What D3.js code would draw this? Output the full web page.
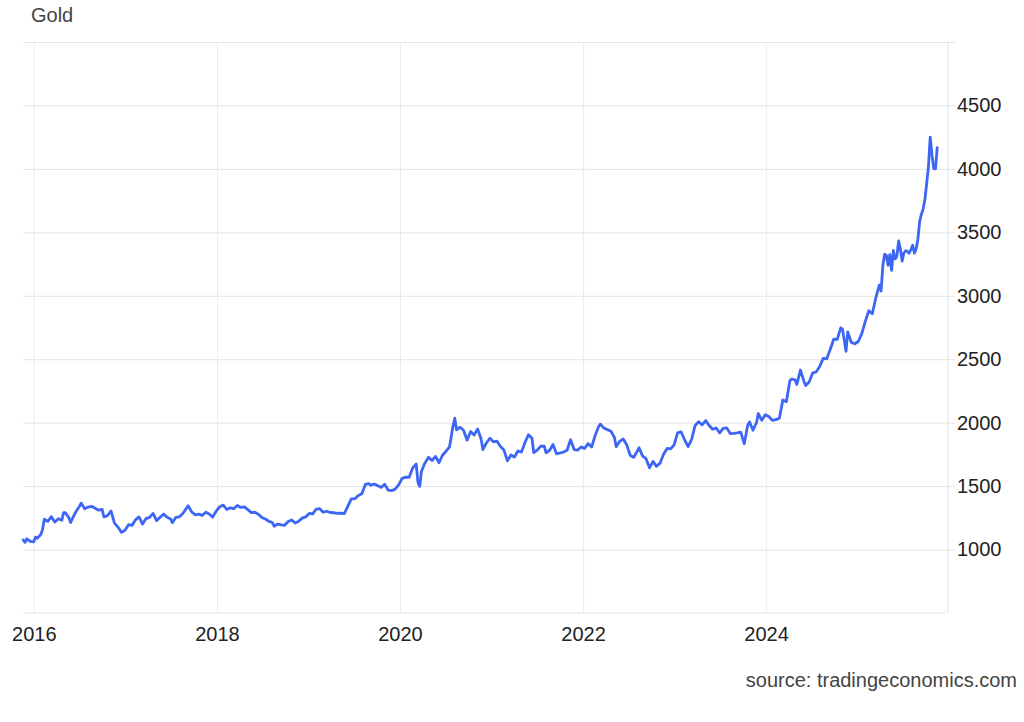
<!DOCTYPE html>
<html>
<head>
<meta charset="utf-8">
<script src="https://cdn.jsdelivr.net/npm/d3@7"></script>
<style>
  html, body { margin: 0; padding: 0; background: #fff; }
  svg { display: block; font-family: "Liberation Sans", Arial, sans-serif; }
</style>
</head>
<body>
<div id="chart"></div>
<script>
//data
var title = "Gold",
    source = "source: tradingeconomics.com";
var xTicks = ["2016-01-01", "2018-01-01", "2020-01-01", "2022-01-01", "2024-01-01"];
var yTicks = [1000, 1500, 2000, 2500, 3000, 3500, 4000, 4500, 5000];
var dates = [
  "2015-11-20","2015-11-27","2015-12-04","2015-12-11","2015-12-18","2016-01-01","2016-01-08","2016-01-15","2016-01-29","2016-02-05",
  "2016-02-12","2016-02-26","2016-03-11","2016-03-25","2016-04-08","2016-04-22","2016-04-29","2016-05-06","2016-05-20","2016-05-27",
  "2016-06-03","2016-06-17","2016-07-01","2016-07-08","2016-07-22","2016-08-05","2016-08-19","2016-09-02","2016-09-16","2016-09-30",
  "2016-10-07","2016-10-21","2016-11-04","2016-11-18","2016-12-02","2016-12-16","2016-12-30","2017-01-13","2017-01-27","2017-02-10",
  "2017-02-24","2017-03-10","2017-03-24","2017-04-07","2017-04-21","2017-05-05","2017-05-19","2017-06-02","2017-06-16","2017-06-30",
  "2017-07-07","2017-07-21","2017-08-04","2017-08-18","2017-09-01","2017-09-08","2017-09-22","2017-10-06","2017-10-20","2017-11-03",
  "2017-11-17","2017-12-01","2017-12-15","2017-12-29","2018-01-12","2018-01-26","2018-02-09","2018-02-23","2018-03-09","2018-03-23",
  "2018-04-06","2018-04-20","2018-05-04","2018-05-18","2018-06-01","2018-06-15","2018-06-29","2018-07-13","2018-07-27","2018-08-10",
  "2018-08-17","2018-08-31","2018-09-14","2018-09-28","2018-10-12","2018-10-26","2018-11-09","2018-11-23","2018-12-07","2018-12-21",
  "2019-01-04","2019-01-18","2019-02-01","2019-02-15","2019-03-01","2019-03-15","2019-03-29","2019-04-12","2019-04-26","2019-05-10",
  "2019-05-24","2019-06-07","2019-06-21","2019-07-05","2019-07-19","2019-08-02","2019-08-16","2019-08-30","2019-09-06","2019-09-20",
  "2019-10-04","2019-10-18","2019-11-01","2019-11-15","2019-11-29","2019-12-13","2019-12-27","2020-01-10","2020-01-24","2020-02-07",
  "2020-02-21","2020-03-06","2020-03-13","2020-03-20","2020-03-27","2020-04-10","2020-04-24","2020-05-08","2020-05-22","2020-06-05",
  "2020-06-19","2020-07-03","2020-07-17","2020-07-31","2020-08-07","2020-08-14","2020-08-28","2020-09-11","2020-09-25","2020-10-09",
  "2020-10-23","2020-11-06","2020-11-20","2020-11-27","2020-12-11","2020-12-25","2021-01-08","2021-01-22","2021-02-05","2021-02-19",
  "2021-03-05","2021-03-19","2021-04-02","2021-04-16","2021-04-30","2021-05-14","2021-05-28","2021-06-11","2021-06-18","2021-07-02",
  "2021-07-16","2021-07-30","2021-08-06","2021-08-20","2021-09-03","2021-09-17","2021-10-01","2021-10-15","2021-10-29","2021-11-12",
  "2021-11-26","2021-12-10","2021-12-24","2022-01-07","2022-01-21","2022-02-04","2022-02-18","2022-03-04","2022-03-11","2022-03-25",
  "2022-04-08","2022-04-22","2022-05-06","2022-05-13","2022-05-27","2022-06-10","2022-06-24","2022-07-08","2022-07-22","2022-08-05",
  "2022-08-12","2022-08-26","2022-09-09","2022-09-23","2022-10-07","2022-10-21","2022-11-04","2022-11-18","2022-12-02","2022-12-16",
  "2022-12-30","2023-01-13","2023-01-27","2023-02-10","2023-02-24","2023-03-10","2023-03-24","2023-04-07","2023-04-21","2023-05-05",
  "2023-05-19","2023-06-02","2023-06-16","2023-06-30","2023-07-14","2023-07-28","2023-08-11","2023-08-25","2023-09-08","2023-09-22",
  "2023-10-06","2023-10-20","2023-10-27","2023-11-10","2023-11-24","2023-12-01","2023-12-15","2023-12-29","2024-01-12","2024-01-26",
  "2024-02-09","2024-02-23","2024-03-08","2024-03-22","2024-04-05","2024-04-12","2024-04-26","2024-05-03","2024-05-17","2024-05-31",
  "2024-06-07","2024-06-21","2024-07-05","2024-07-19","2024-08-02","2024-08-16","2024-08-30","2024-09-13","2024-09-27","2024-10-11",
  "2024-10-25","2024-11-01","2024-11-15","2024-11-22","2024-12-06","2024-12-20","2025-01-03","2025-01-17","2025-01-31","2025-02-14",
  "2025-02-28","2025-03-14","2025-03-28","2025-04-04","2025-04-11","2025-04-18","2025-04-25","2025-05-02","2025-05-09","2025-05-16",
  "2025-05-23","2025-05-30","2025-06-06","2025-06-13","2025-06-20","2025-06-27","2025-07-04","2025-07-11","2025-07-18","2025-07-25",
  "2025-08-01","2025-08-08","2025-08-15","2025-08-22","2025-08-29","2025-09-05","2025-09-12","2025-09-19","2025-09-26","2025-10-03",
  "2025-10-10","2025-10-17","2025-10-24","2025-10-31","2025-11-07","2025-11-14"
];
var prices = [
  1076,1057,1085,1075,1065,1061,1098,1089,1118,1157,
  1239,1222,1259,1217,1243,1232,1291,1290,1252,1213,
  1243,1298,1340,1366,1322,1335,1341,1326,1310,1316,
  1257,1267,1304,1208,1177,1135,1152,1196,1190,1234,
  1257,1201,1244,1254,1285,1228,1254,1279,1254,1241,
  1212,1254,1258,1284,1325,1346,1297,1274,1280,1269,
  1294,1280,1256,1303,1338,1350,1316,1329,1323,1347,
  1332,1336,1315,1291,1294,1279,1253,1241,1223,1212,
  1184,1201,1194,1191,1221,1233,1209,1223,1248,1257,
  1285,1282,1318,1322,1294,1302,1292,1290,1286,1286,
  1283,1341,1400,1400,1426,1440,1513,1520,1507,1516,
  1504,1490,1514,1468,1464,1476,1510,1561,1571,1570,
  1643,1674,1530,1498,1617,1683,1727,1702,1734,1684,
  1743,1775,1810,1975,2035,1944,1964,1940,1862,1930,
  1902,1951,1871,1788,1840,1877,1849,1855,1813,1784,
  1700,1745,1729,1777,1768,1844,1905,1877,1764,1783,
  1815,1814,1763,1781,1828,1754,1761,1768,1783,1865,
  1788,1783,1809,1797,1835,1808,1898,1970,1988,1957,
  1945,1933,1883,1811,1853,1871,1826,1742,1727,1775,
  1802,1738,1716,1644,1695,1656,1681,1751,1797,1793,
  1824,1920,1928,1865,1811,1868,1978,2007,1983,2017,
  1977,1948,1958,1919,1955,1959,1914,1915,1919,1925,
  1833,1981,2006,1940,2001,2072,2019,2063,2049,2018,
  2024,2035,2179,2165,2329,2344,2337,2301,2415,2327,
  2293,2321,2391,2400,2443,2507,2503,2577,2658,2656,
  2747,2737,2562,2715,2633,2622,2640,2702,2798,2882,
  2858,2984,3085,3037,3237,3327,3319,3240,3325,3200,
  3357,3290,3310,3433,3368,3274,3337,3355,3350,3336,
  3363,3398,3336,3371,3448,3586,3643,3685,3760,3886,
  4018,4250,4112,4002,4000,4167
];

function drawGold(place) {
  var parse = d3.timeParse("%Y-%m-%d");
  var series = dates.map(function(d, i) { return { date: parse(d), value: prices[i] }; });
  //layout
  var view = { w: 1024, h: 722 },
      area = { left: 23, right: 948, top: 42, bottom: 613, tick: 7 },
      font = { big: 20, title: 20 },
      color = {
        line: "#3d66f5",
        hgrid: "#e4e4e4",
        vgrid: "#eaeef2",
        text: "#222",
        sub: "#444"
      };

  var x = d3.scaleTime()
            .domain([parse("2015-11-19"), parse("2025-12-27")])
            .range([area.left, area.right]);
  var y = d3.scaleLinear().domain([500, 5000]).range([area.bottom, area.top]);

  var svg = d3.select(place).append("svg").attr("width", view.w).attr("height", view.h);

  //vertical grid + year labels
  var xAxis = d3.axisBottom(x)
                .tickValues(xTicks.map(parse))
                .tickFormat(d3.timeFormat("%Y"))
                .tickSize(-(area.bottom - area.top))
                .tickPadding(14);
  var gx = svg.append("g").attr("transform", "translate(0," + area.bottom + ")").call(xAxis);
  gx.select(".domain").remove();
  gx.selectAll("line").attr("stroke", color.vgrid).attr("stroke-width", 1);
  gx.selectAll("text").attr("font-size", font.big).attr("fill", color.text).attr("font-family", null);

  //horizontal grid + price labels
  var yAxis = d3.axisRight(y)
                .tickValues(yTicks)
                .tickFormat(function(d) { return d === 5000 ? "" : d; })
                .tickSize(-(area.right + area.tick - area.left))
                .tickPadding(2);
  var gy = svg.append("g").attr("transform", "translate(" + (area.right + area.tick) + ",0)").call(yAxis);
  gy.select(".domain").remove();
  gy.selectAll("line").attr("stroke", color.hgrid).attr("stroke-width", 1);
  gy.selectAll("text").attr("font-size", font.big).attr("fill", color.text).attr("font-family", null);

  //frame: bottom and right edges
  svg.append("line").attr("x1", area.left).attr("x2", area.right - 2)
     .attr("y1", area.bottom).attr("y2", area.bottom)
     .attr("stroke", color.hgrid).attr("stroke-width", 1);
  svg.append("line").attr("x1", area.right).attr("x2", area.right)
     .attr("y1", area.top).attr("y2", area.bottom)
     .attr("stroke", color.hgrid).attr("stroke-width", 1);

  //price line
  var line = d3.line().x(function(d) { return x(d.date); }).y(function(d) { return y(d.value); });
  svg.append("path").datum(series).attr("d", line)
     .attr("fill", "none").attr("stroke", color.line).attr("stroke-width", 2.8)
     .attr("stroke-linejoin", "round").attr("stroke-linecap", "round");

  //captions
  svg.append("text").attr("x", 31).attr("y", 22).attr("font-size", font.title)
     .attr("fill", color.sub).text(title);
  svg.append("text").attr("x", 1017).attr("y", 687).attr("text-anchor", "end")
     .attr("font-size", font.big).attr("fill", color.sub).text(source);
}

drawGold("#chart");
</script>
</body>
</html>
